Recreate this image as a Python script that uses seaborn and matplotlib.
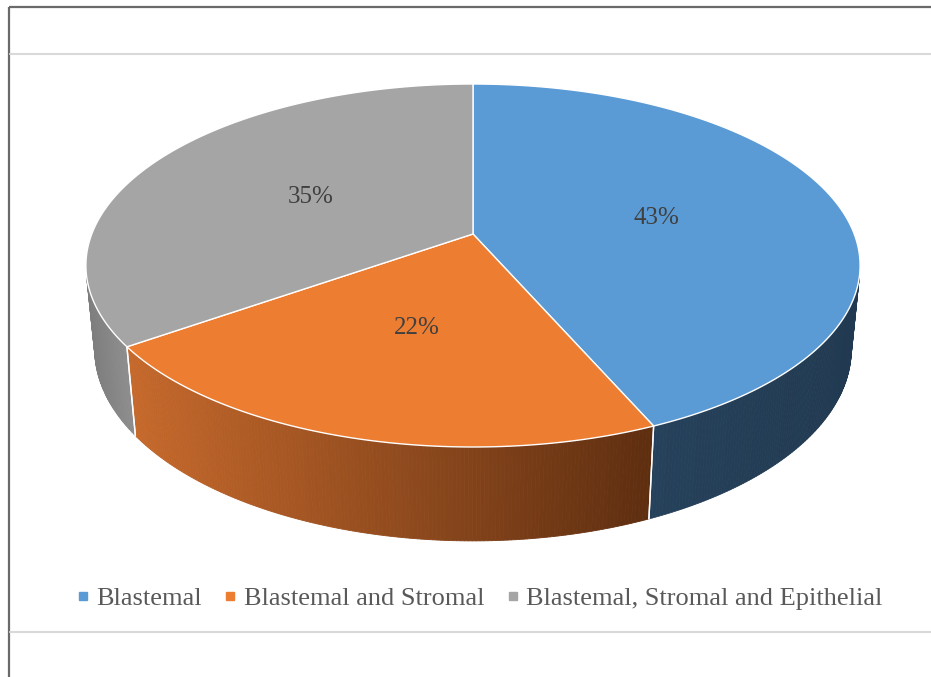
import numpy as np
import matplotlib
matplotlib.use("Agg")
import matplotlib.pyplot as plt
import seaborn as sns
from matplotlib.patches import Polygon
from matplotlib.lines import Line2D
from matplotlib.colors import to_rgb

# ---------------- data ----------------
categories = ["Blastemal", "Blastemal and Stromal", "Blastemal, Stromal and Epithelial"]
counts = [20, 10, 16]
top_colors = ["#5b9bd5", "#ed7d31", "#a5a5a5"]
side_colors = [("#26415b", "#213a51"), ("#c6692c", "#5e2e10"), ("#7e7e7e", "#8e8e8e")]

sns.set_theme(style="white")
plt.rcParams["font.family"] = ["Liberation Serif", "DejaVu Serif"]

# ---------------- 3D projection ----------------
ELEV = np.radians(27.5)
SE, CE = np.sin(ELEV), np.cos(ELEV)
DIST = 5.11
SCALE = 1948.0
CX, CY = 473.0, 234.0
THICK = 0.25


def proj(x, y, z):
    depth = DIST - SE * y - CE * z
    u = x / depth
    w = (CE * y - SE * z) / depth
    return CX + SCALE * u, CY - SCALE * w


def rim(alpha, y=0.0, r=1.0):
    a = np.radians(alpha)
    return proj(r * np.sin(a), y, -r * np.cos(a))


fig = plt.figure(figsize=(9.31, 6.77), dpi=100)
ax = fig.add_axes([0, 0, 1, 1])
ax.set_xlim(0, 931)
ax.set_ylim(677, 0)
ax.axis("off")

total = float(sum(counts))
fracs = np.array(counts) / total
bounds = np.concatenate([[0.0], np.cumsum(fracs)]) * 360.0

# visible side range
lim = np.degrees(np.arccos(-1.0 / (DIST * CE)))
vmin, vmax = lim, 360.0 - lim

# sides
for i in range(len(counts)):
    a0, a1 = max(bounds[i], vmin), min(bounds[i + 1], vmax)
    if a1 <= a0:
        continue
    n = max(int((a1 - a0) * 2), 2)
    al = np.linspace(a0, a1, n + 1)
    tops = [rim(a) for a in al]
    bots = [rim(a, y=-THICK) for a in al]
    xs = [p[0] for p in tops]
    xmin, xmax = min(xs), max(xs)
    c0, c1 = np.array(to_rgb(side_colors[i][0])), np.array(to_rgb(side_colors[i][1]))
    for k in range(n):
        xm = 0.5 * (tops[k][0] + tops[k + 1][0])
        t = (xm - xmin) / (xmax - xmin) if xmax > xmin else 0
        col = c0 + (c1 - c0) * t
        quad = [tops[k], tops[k + 1], bots[k + 1], bots[k]]
        ax.add_patch(Polygon(quad, closed=True, facecolor=col, edgecolor=col,
                             linewidth=0.6, zorder=2))
    # seams
    for a in (bounds[i], bounds[i + 1]):
        if vmin < a < vmax:
            p, q = rim(a), rim(a, y=-THICK)
            ax.plot([p[0], q[0]], [p[1], q[1]], color="white", lw=1.0, zorder=2.5)

# top faces
apex = proj(0, 0, 0)
for i in range(len(counts)):
    al = np.linspace(bounds[i], bounds[i + 1], 200)
    pts = [apex] + [rim(a) for a in al]
    ax.add_patch(Polygon(pts, closed=True, facecolor=top_colors[i],
                         edgecolor="white", linewidth=1.0, zorder=3))

# labels
for i in range(len(counts)):
    mid = 0.5 * (bounds[i] + bounds[i + 1])
    px, py = rim(mid, r=0.5)
    ax.text(px, py + 2, f"{round(fracs[i] * 100):.0f}%", ha="center", va="center",
            fontsize=18, color="#404040", zorder=4)

# frame lines
ax.plot([8.5, 8.5], [6.5, 677], color="#6a6a6a", lw=1.6, zorder=5, solid_capstyle="butt")
ax.plot([8.5, 931], [7, 7], color="#6a6a6a", lw=1.6, zorder=5, solid_capstyle="butt")
ax.plot([9.5, 931], [54, 54], color="#d9d9d9", lw=1.5, zorder=5)
ax.plot([9.5, 931], [632, 632], color="#d9d9d9", lw=1.5, zorder=5)

# legend
handles = [Line2D([0], [0], marker="s", linestyle="none", markersize=5.5,
                  markerfacecolor=c, markeredgecolor=c) for c in top_colors]
ax.legend(handles, categories, loc="center", bbox_to_anchor=(480 / 931, 1 - 598 / 677),
          ncol=3, frameon=False, fontsize=19, handlelength=0.4, handletextpad=0.3,
          columnspacing=0.9, labelcolor="#595959", borderaxespad=0)

fig.savefig("out.png", dpi=100)
